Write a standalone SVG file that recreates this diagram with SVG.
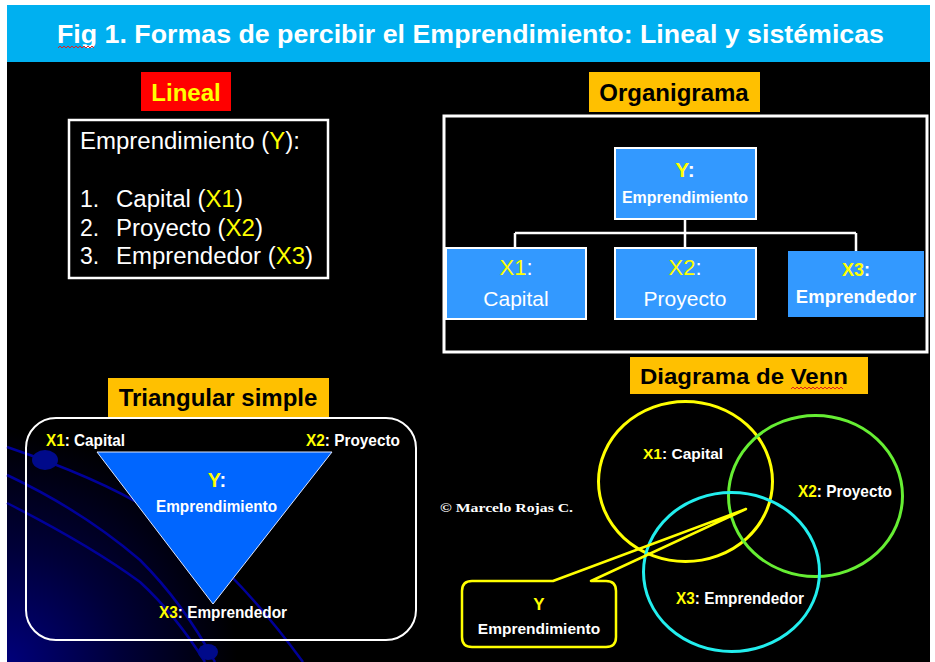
<svg xmlns="http://www.w3.org/2000/svg" width="935" height="662" viewBox="0 0 935 662">
<defs>
<radialGradient id="glow" cx="7" cy="662" r="230" gradientUnits="userSpaceOnUse">
<stop offset="0" stop-color="#00007a"/>
<stop offset="0.5" stop-color="#000038"/>
<stop offset="1" stop-color="#000000"/>
</radialGradient>
<style>
text{font-family:"Liberation Sans",Arial,sans-serif;}
.w{fill:#ffffff;}
.y{fill:#ffff00;}
.b{font-weight:bold;}
.lbl{fill:#ffc000;}
.frame{fill:none;stroke:#ffffff;}
.org{fill:#3399ff;stroke:#ffffff;stroke-width:2;}
.deco{fill:none;stroke:#000099;stroke-width:2.5;}
.conn{fill:none;stroke:#ffffff;stroke-width:2.5;}
.squig{fill:none;stroke:#e02020;stroke-width:1;}
</style>
</defs>
<rect x="0" y="0" width="935" height="662" fill="#ffffff"/>
<rect x="7" y="62" width="923" height="600" fill="#000000"/>
<rect x="7" y="62" width="923" height="600" fill="url(#glow)"/>
<g id="decor">
<path class="deco" d="M7,447 C60,465 110,485 150,510 C200,540 250,590 303,662"/>
<path class="deco" d="M7,475 C60,500 105,530 140,560 C170,590 195,625 215,662"/>
<path class="deco" d="M7,503 C60,530 110,560 140,582 C165,605 185,630 205,662"/>
<ellipse cx="45" cy="460" rx="13" ry="10" fill="#000a8a"/>
<ellipse cx="208" cy="652" rx="10" ry="8" fill="#000a8a"/>
</g>
<g id="title">
<rect x="7" y="5" width="923" height="57" fill="#00b0f0"/>
<text x="57" y="43" class="w b" font-size="25" textLength="827" lengthAdjust="spacingAndGlyphs">Fig 1. Formas de percibir el Emprendimiento: Lineal y sistémicas</text>
<path class="squig" d="M58,48 l2,-2 l2,2 l2,-2 l2,2 l2,-2 l2,2 l2,-2 l2,2 l2,-2 l2,2 l2,-2 l2,2 l2,-2 l2,2 l2,-2 l2,2 l2,-2 l2,2"/>
</g>
<g id="lineal">
<rect x="141" y="72" width="90" height="39" fill="#ff0000"/>
<text x="186" y="101" class="y b" font-size="24" text-anchor="middle">Lineal</text>
<rect class="frame" x="69" y="120" width="259" height="158" stroke-width="2.5"/>
<text x="80" y="149" class="w" font-size="23" textLength="220" lengthAdjust="spacingAndGlyphs">Emprendimiento (<tspan class="y">Y</tspan>):</text>
<text x="80" y="207" class="w" font-size="23">1.</text>
<text x="116" y="207" class="w" font-size="23" textLength="127" lengthAdjust="spacingAndGlyphs">Capital (<tspan class="y">X1</tspan>)</text>
<text x="80" y="236" class="w" font-size="23">2.</text>
<text x="116" y="236" class="w" font-size="23" textLength="147" lengthAdjust="spacingAndGlyphs">Proyecto (<tspan class="y">X2</tspan>)</text>
<text x="80" y="264" class="w" font-size="23">3.</text>
<text x="116" y="264" class="w" font-size="23" textLength="197" lengthAdjust="spacingAndGlyphs">Emprendedor (<tspan class="y">X3</tspan>)</text>
</g>
<g id="organigrama">
<rect class="lbl" x="589" y="72" width="171" height="40"/>
<text x="674" y="101" font-size="24" class="b" fill="#000000" text-anchor="middle">Organigrama</text>
<rect class="frame" x="444" y="116" width="483" height="236" stroke-width="3"/>
</g>
<g id="connectors">
<path class="conn" d="M685,219 V233 M515,233 H856 M515,233 V248 M685,233 V248 M856,233 V251"/>
</g>
<g id="org-y">
<rect class="org" x="615" y="148" width="141" height="71"/>
<text x="685" y="177" class="w b" font-size="21" text-anchor="middle"><tspan class="y">Y</tspan>:</text>
<text x="685" y="203" class="w b" font-size="16" text-anchor="middle">Emprendimiento</text>
</g>
<g id="org-x1">
<rect class="org" x="446" y="248" width="140" height="71"/>
<text x="516" y="275" class="w" font-size="22" text-anchor="middle"><tspan class="y">X1</tspan>:</text>
<text x="516" y="306" class="w" font-size="21" text-anchor="middle">Capital</text>
</g>
<g id="org-x2">
<rect class="org" x="615" y="248" width="141" height="71"/>
<text x="685" y="275" class="w" font-size="22" text-anchor="middle"><tspan class="y">X2</tspan>:</text>
<text x="685" y="306" class="w" font-size="21" text-anchor="middle">Proyecto</text>
</g>
<g id="org-x3">
<rect x="788" y="251" width="136" height="66" fill="#3399ff"/>
<text x="856" y="276" class="w b" font-size="18" text-anchor="middle"><tspan class="y">X3</tspan>:</text>
<text x="856" y="303" class="w b" font-size="18.5" text-anchor="middle">Emprendedor</text>
</g>
<g id="triangular">
<rect class="lbl" x="108" y="378" width="221" height="39"/>
<text x="218" y="406" font-size="24" class="b" fill="#000000" text-anchor="middle">Triangular simple</text>
<rect class="frame" x="26" y="418" width="390" height="222" rx="30" ry="30" stroke-width="2"/>
<polygon points="97,452 332,452 213,604" fill="#0066ff" stroke="#dde6ff" stroke-width="1"/>
<text x="217" y="487" class="w b" font-size="20" text-anchor="middle"><tspan class="y">Y</tspan>:</text>
<text x="156" y="512" class="w b" font-size="17" textLength="121" lengthAdjust="spacingAndGlyphs">Emprendimiento</text>
<text x="46" y="446" class="w b" font-size="16" textLength="79" lengthAdjust="spacingAndGlyphs"><tspan class="y">X1</tspan>: Capital</text>
<text x="306" y="446" class="w b" font-size="16" textLength="94" lengthAdjust="spacingAndGlyphs"><tspan class="y">X2</tspan>: Proyecto</text>
<text x="159" y="618" class="w b" font-size="16" textLength="128" lengthAdjust="spacingAndGlyphs"><tspan class="y">X3</tspan>: Emprendedor</text>
</g>
<g id="venn">
<rect class="lbl" x="630" y="357" width="238" height="37"/>
<text x="640" y="384" font-size="22.5" class="b" fill="#000000" textLength="208" lengthAdjust="spacingAndGlyphs">Diagrama de Venn</text>
<path class="squig" d="M791,389 l2,-2 l2,2 l2,-2 l2,2 l2,-2 l2,2 l2,-2 l2,2 l2,-2 l2,2 l2,-2 l2,2 l2,-2 l2,2 l2,-2 l2,2 l2,-2 l2,2 l2,-2 l2,2 l2,-2 l2,2 l2,-2 l2,2 l2,-2 l2,2"/>
<ellipse cx="685.5" cy="481.5" rx="87" ry="80" fill="none" stroke="#ffff00" stroke-width="3"/>
<ellipse cx="815.5" cy="496" rx="87" ry="80.5" fill="none" stroke="#66ee33" stroke-width="3"/>
<ellipse cx="731.5" cy="572" rx="88" ry="79.5" fill="none" stroke="#22eeee" stroke-width="3"/>
<text x="643" y="459" class="w b" font-size="15.5"><tspan class="y">X1</tspan>: Capital</text>
<text x="798" y="497" class="w b" font-size="17" textLength="94" lengthAdjust="spacingAndGlyphs"><tspan class="y">X2</tspan>: Proyecto</text>
<text x="676" y="604" class="w b" font-size="17" textLength="128" lengthAdjust="spacingAndGlyphs"><tspan class="y">X3</tspan>: Emprendedor</text>
</g>
<g id="callout">
<path d="M472,581 L553,581 L746,509 L591,581 L606,581 Q616,581 616,591 L616,637 Q616,647 606,647 L472,647 Q462,647 462,637 L462,591 Q462,581 472,581 Z" fill="none" stroke="#ffff00" stroke-width="2.5" stroke-linejoin="round"/>
<text x="539" y="610" class="y b" font-size="17" text-anchor="middle">Y</text>
<text x="539" y="634" class="w b" font-size="15.5" text-anchor="middle">Emprendimiento</text>
</g>
<g id="credit">
<text x="440" y="512" class="w b" font-size="12.5" style="font-family:'Liberation Serif','Times New Roman',serif" textLength="133" lengthAdjust="spacingAndGlyphs">© Marcelo Rojas C.</text>
</g>
</svg>
